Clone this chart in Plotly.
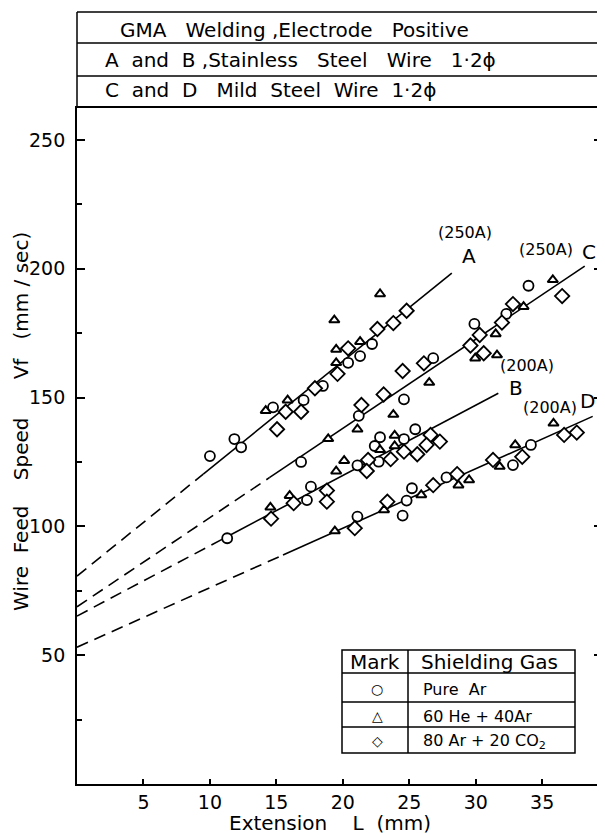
import plotly.graph_objects as go

# ---------------- data ----------------
circle_x = [10.0, 11.84, 12.35, 14.75, 11.3, 22.2, 21.3, 33.97, 32.3, 29.9, 26.8, 24.6, 24.6, 25.45,
            34.15, 32.8, 27.8, 25.2, 24.8, 24.5, 20.4, 18.5, 17.05, 21.2, 16.86, 22.8, 22.4, 21.1,
            22.7, 17.6, 17.3, 21.1]
circle_y = [127.3, 133.9, 130.7, 146.2, 95.4, 170.8, 166.1, 193.4, 182.5, 178.6, 165.3, 149.3, 133.9, 137.7,
            131.6, 123.8, 119.0, 114.8, 110.0, 104.2, 163.5, 154.5, 149.0, 142.9, 125.0, 134.6, 131.2, 123.7,
            125.1, 115.4, 110.2, 103.8]

tri_x = [14.2, 14.55, 22.8, 19.36, 19.5, 21.3, 35.8, 33.6, 31.5, 31.6, 29.96, 26.5, 23.8, 23.9, 23.9,
         35.85, 32.97, 31.8, 29.5, 28.7, 25.9, 23.1, 19.5, 15.85, 21.1, 18.9, 22.8, 20.1, 19.5, 16.0, 19.4]
tri_y = [144.9, 107.4, 190.2, 180.1, 168.7, 171.7, 195.7, 185.3, 174.7, 166.5, 165.3, 155.8, 143.4, 135.3, 131.2,
         140.0, 131.6, 123.2, 118.0, 116.0, 112.2, 106.4, 163.5, 149.0, 137.7, 134.0, 129.7, 125.5, 121.4, 111.9, 98.2]

dia_x = [15.05, 14.6, 20.4, 22.6, 23.8, 24.8, 36.5, 32.8, 31.97, 30.3, 29.6, 30.6, 26.1, 24.5, 23.07,
         26.6, 27.3, 26.3, 25.6, 24.6, 23.6, 36.65, 37.6, 33.5, 31.3, 28.6, 26.8, 23.35, 19.6, 17.9,
         15.7, 16.86, 21.4, 21.9, 21.8, 18.8, 18.8, 16.3, 20.9]
dia_y = [137.7, 103.0, 169.1, 176.6, 178.9, 183.7, 189.4, 186.3, 179.1, 174.3, 170.2, 167.2, 163.3, 160.3, 151.2,
         135.5, 132.9, 131.6, 128.0, 129.0, 126.1, 135.5, 136.4, 127.0, 125.8, 120.3, 116.0, 109.6, 159.2, 153.6,
         144.5, 144.5, 147.1, 125.8, 121.5, 113.9, 109.6, 109.0, 99.3]

# fitted lines: [start, end of dashed part (= start of solid), end of solid]
line_names = ["A", "C", "B", "D"]
line_x = {"A": [0, 9.5, 28.2], "C": [0, 14.5, 38.2], "B": [0, 11.0, 31.7], "D": [0, 15.5, 38.8]}
line_y = {"A": [80.7, 120.3, 198.3], "C": [68.8, 119.0, 201.0], "B": [65.2, 95.2, 151.7], "D": [53.1, 88.9, 142.7]}

# curve labels: (text, x, y, size)
curve_labels = [("(250A)", 29.2, 214.0, 16), ("A", 29.5, 205.0, 20),
                ("(250A)", 35.3, 207.3, 16), ("C", 38.5, 206.7, 20),
                ("(200A)", 33.85, 162.5, 16), ("B", 33.0, 153.8, 20),
                ("(200A)", 35.6, 146.2, 16), ("D", 38.4, 148.8, 20)]

y_ticks = [50, 100, 150, 200, 250]
y_minor = [25, 75, 125, 175, 225]
x_ticks = [5, 10, 15, 20, 25, 30, 35]

NB = "\u00a0"
header_rows = ["GMA" + NB * 3 + "Welding" + NB + ",Electrode" + NB * 3 + "Positive",
               "A" + NB * 2 + "and" + NB * 2 + "B" + NB + ",Stainless" + NB * 3 + "Steel" + NB * 3 + "Wire" + NB * 3 + "1·2ϕ",
               "C" + NB * 2 + "and" + NB * 2 + "D" + NB * 3 + "Mild" + NB * 2 + "Steel" + NB * 2 + "Wire" + NB * 2 + "1·2ϕ"]
legend_marks = ["○", "△", "◇"]
legend_gases = ["Pure" + NB * 2 + "Ar", "60 He + 40Ar", "80 Ar + 20 CO<sub>2</sub>"]

# ---------------- layout geometry (reference pixels) ----------------
OFF = 8                      # page body margin of the browser
W, H = 605 - OFF, 834 - OFF  # figure size
L, R, T, B = 77, 602, 108, 784  # plot area in screen pixels
FONT = "DejaVu Sans"


def px(x):
    return (x - L) / (R - L)


def py(y):
    return (B - y) / (B - T)


fig = go.Figure()

for n in line_names:
    xs, ys = line_x[n], line_y[n]
    fig.add_trace(go.Scatter(x=xs[:2], y=ys[:2], mode="lines",
                             line=dict(color="black", width=1.6, dash="12px,7px"),
                             showlegend=False, hoverinfo="skip"))
    fig.add_trace(go.Scatter(x=xs[1:], y=ys[1:], mode="lines",
                             line=dict(color="black", width=1.6),
                             showlegend=False, hoverinfo="skip"))

fig.add_trace(go.Scatter(x=circle_x, y=circle_y, mode="markers", showlegend=False,
                         marker=dict(symbol="circle", size=10, color="white",
                                     line=dict(color="black", width=1.8))))
fig.add_trace(go.Scatter(x=tri_x, y=tri_y, mode="markers", showlegend=False,
                         marker=dict(symbol="triangle-up", size=9, color="white",
                                     line=dict(color="black", width=2))))
fig.add_trace(go.Scatter(x=dia_x, y=dia_y, mode="markers", showlegend=False,
                         marker=dict(symbol="diamond", size=11, color="white",
                                     line=dict(color="black", width=1.8))))


def note(text, x, y, size, xanchor="center", **kw):
    return dict(text=text, x=x, y=y, xref="paper", yref="paper",
                showarrow=False, xanchor=xanchor, yanchor="middle",
                font=dict(size=size, color="black", family=FONT), **kw)


ann = []
for t, x, y, s in curve_labels:
    ann.append(dict(text=t, x=x, y=y, xref="x", yref="y", showarrow=False,
                    xanchor="center", yanchor="middle",
                    font=dict(size=s, color="black", family=FONT)))

# header table
shapes = []
for yy in [12, 43, 76]:
    shapes.append(dict(type="line", xref="paper", yref="paper", x0=0, x1=px(620),
                       y0=py(yy), y1=py(yy), line=dict(color="black", width=1.5)))
shapes.append(dict(type="line", xref="paper", yref="paper", x0=0, x1=0,
                   y0=1, y1=py(12), line=dict(color="black", width=1.5)))
hdr_pos = [(118, 30), (103, 60), (103, 90)]
for t, (hx, hy) in zip(header_rows, hdr_pos):
    ann.append(note(t, px(hx), py(hy), 20, xanchor="left"))

# legend table
lx0, lx1, ldiv = 342, 575, 408
ly = [650, 673, 702, 727, 753]
shapes.append(dict(type="rect", xref="paper", yref="paper", x0=px(lx0), x1=px(lx1),
                   y0=py(ly[-1]), y1=py(ly[0]), line=dict(color="black", width=1.5)))
shapes.append(dict(type="line", xref="paper", yref="paper", x0=px(ldiv), x1=px(ldiv),
                   y0=py(ly[-1]), y1=py(ly[0]), line=dict(color="black", width=1.5)))
for yy in ly[1:-1]:
    shapes.append(dict(type="line", xref="paper", yref="paper", x0=px(lx0), x1=px(lx1),
                       y0=py(yy), y1=py(yy), line=dict(color="black", width=1.5)))
ann.append(note("Mark", px(375), py(662), 20))
ann.append(note("Shielding Gas", px(489), py(662), 20))
row_y = [689, 716, 741]
for m, g, yy in zip(legend_marks, legend_gases, row_y):
    ann.append(note("<b>" + m + "</b>", px(377), py(yy), 14))
    ann.append(note(g, px(421), py(yy), 16, xanchor="left"))

# axis titles
ann.append(note("Extension" + NB * 4 + "L" + NB * 2 + "(mm)", px(330), py(823), 20))
ann.append(note("Wire" + NB * 2 + "Feed" + NB * 4 + "Speed" + NB * 6 + "Vf" + NB * 3 + "(mm / sec)",
                px(21), py(422), 20, textangle=-90))

fig.update_layout(
    width=W, height=H,
    margin=dict(l=L - OFF, r=W - (R - OFF), t=T - OFF, b=H - (B - OFF), pad=0, autoexpand=False),
    paper_bgcolor="white", plot_bgcolor="white",
    shapes=shapes, annotations=ann, showlegend=False,
    font=dict(family=FONT, size=19, color="black"),
    xaxis=dict(range=[0, 39.5], tickvals=x_ticks, ticks="inside", ticklen=5, tickwidth=1.5,
               tickcolor="black", showline=True, linecolor="black", linewidth=1.8, mirror=True,
               showgrid=False, zeroline=False, tickfont=dict(size=19, family=FONT)),
    yaxis=dict(range=[0, 262.4], tickvals=y_ticks, ticks="inside", ticklen=8, tickwidth=1.5,
               tickcolor="black", showline=True, linecolor="black", linewidth=1.8, mirror="ticks",
               showgrid=False, zeroline=False, tickfont=dict(size=19, family=FONT),
               ticklabelstandoff=6,
               minor=dict(tickvals=y_minor, ticks="inside", ticklen=5, tickwidth=1.5, tickcolor="black",
                          showgrid=False)),
)

fig.write_html("out.html")
